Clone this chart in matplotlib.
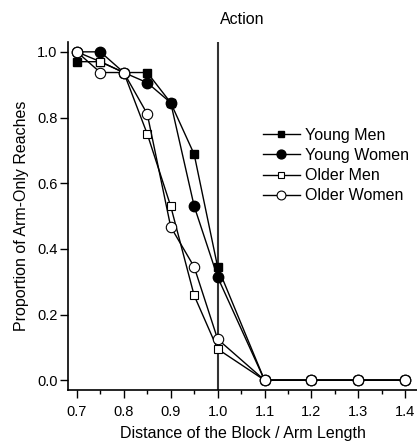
import matplotlib
matplotlib.use("Agg")
import matplotlib.pyplot as plt
from matplotlib.ticker import MultipleLocator

plt.rcParams['font.family'] = ['Liberation Sans', 'DejaVu Sans']

# distance of block / arm length
dist = [0.7, 0.75, 0.8, 0.85, 0.9, 0.95, 1.0, 1.1, 1.2, 1.3, 1.4]

young_men = [0.97, 0.97, 0.937, 0.937, 0.845, 0.688, 0.345, 0.0, 0.0, 0.0, 0.0]
young_women = [1.0, 1.0, 0.937, 0.906, 0.845, 0.530, 0.314, 0.0, 0.0, 0.0, 0.0]
older_men = [1.0, 0.97, 0.937, 0.75, 0.530, 0.258, 0.095, 0.0, 0.0, 0.0, 0.0]
older_women = [1.0, 0.937, 0.937, 0.811, 0.467, 0.345, 0.125, 0.0, 0.0, 0.0, 0.0]

x_ticks = [0.7, 0.8, 0.9, 1.0, 1.1, 1.2, 1.3, 1.4]
y_ticks = [0.0, 0.2, 0.4, 0.6, 0.8, 1.0]

fig = plt.figure(figsize=(4.17, 4.42), dpi=100)
ax = fig.add_axes([0.163, 0.1176, 0.837, 0.7874])

ax.plot(dist, young_men, color='k', lw=1, marker='s', ms=5.5, mfc='k', mec='k', label='Young Men')
ax.plot(dist, young_women, color='k', lw=1, marker='o', ms=7.5, mfc='k', mec='k', label='Young Women')
ax.plot(dist, older_men, color='k', lw=1, marker='s', ms=5.5, mfc='white', mec='k', mew=0.8, label='Older Men')
ax.plot(dist, older_women, color='k', lw=1, marker='o', ms=7.5, mfc='white', mec='k', mew=0.8, label='Older Women')

ax.axvline(1.0, color='#333333', lw=1.5, zorder=1)

ax.set_xlim(0.681, 1.425)
ax.set_ylim(-0.03, 1.03)
ax.set_xticks(x_ticks)
ax.set_xticklabels(['%.1f' % v for v in x_ticks])
ax.set_yticks(y_ticks)
ax.set_yticklabels(['%.1f' % v for v in y_ticks])
ax.xaxis.set_minor_locator(MultipleLocator(0.05))
ax.tick_params(axis='both', which='major', direction='out', length=5.5, width=1, labelsize=10.5)
ax.tick_params(axis='y', which='major', pad=2)
ax.tick_params(axis='x', which='major', pad=5)
ax.tick_params(axis='x', which='minor', direction='out', length=3, width=1)

ax.spines['top'].set_visible(False)
ax.spines['right'].set_visible(False)
ax.spines['left'].set_linewidth(1.2)
ax.spines['bottom'].set_linewidth(1.2)

ax.set_xlabel('Distance of the Block / Arm Length', fontsize=11.5, labelpad=5.5)
ax.set_ylabel('Proportion of Arm-Only Reaches', fontsize=11.5, labelpad=6)
ax.set_title('Action', fontsize=11.5, pad=13)

leg = ax.legend(loc='upper left', bbox_to_anchor=(0.559, 0.753), frameon=False, fontsize=11.5,
                handlelength=2.3, handletextpad=0.3, labelspacing=0.32, markerscale=0.85,
                borderaxespad=0, borderpad=0)

fig.savefig('out.png', dpi=100)
